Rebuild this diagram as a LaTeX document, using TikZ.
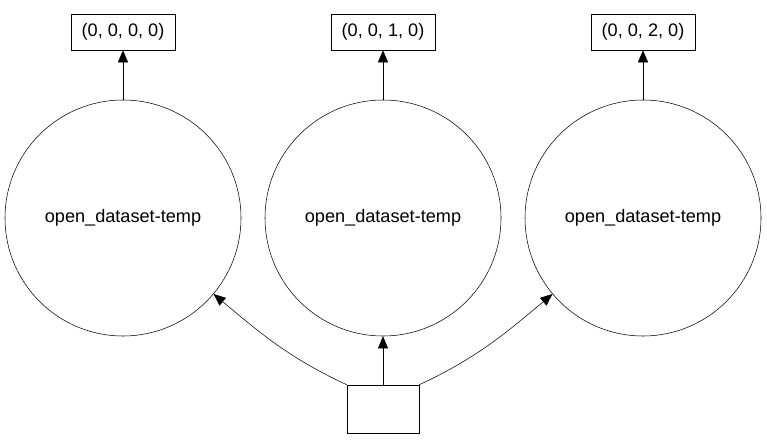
\documentclass[tikz,border=0pt]{standalone}
\usepackage{fontspec}
\setmainfont{Liberation Sans}
\usetikzlibrary{positioning, arrows.meta, shapes}

\begin{document}
\begin{tikzpicture}[x=0.75pt,y=-0.75pt,
  task/.style={circle,draw,minimum size=177pt,inner sep=0pt,font=\fontsize{13.6}{15}\selectfont},
  key/.style={rectangle,draw,minimum width=78pt,minimum height=27pt,inner sep=0pt,font=\fontsize{13.6}{15}\selectfont},
  dep/.style={-{Triangle[length=9pt,width=7.5pt]}}]
\useasboundingbox (0,0) rectangle (767,439);

\node[task](t0) at (123,218) {open\_dataset-temp};
\node[task](t1) at (383,218) {open\_dataset-temp};
\node[task](t2) at (643,218) {open\_dataset-temp};

\node[key](k0) at (123,32) {(0, 0, 0, 0)};
\node[key](k1) at (383,32) {(0, 0, 1, 0)};
\node[key](k2) at (643,32) {(0, 0, 2, 0)};

\node[rectangle,draw,minimum width=54pt,minimum height=36pt](src) at (383,409) {};

\draw	(t0) edge[dep] (k0)
		(t1) edge[dep] (k1)
		(t2) edge[dep] (k2)
		(src) edge[dep] (t1)
		(src.north west) edge[dep, out=155, in=-40] (t0)
		(src.north east) edge[dep, out=25, in=220] (t2)
		;

\end{tikzpicture}
\end{document}
